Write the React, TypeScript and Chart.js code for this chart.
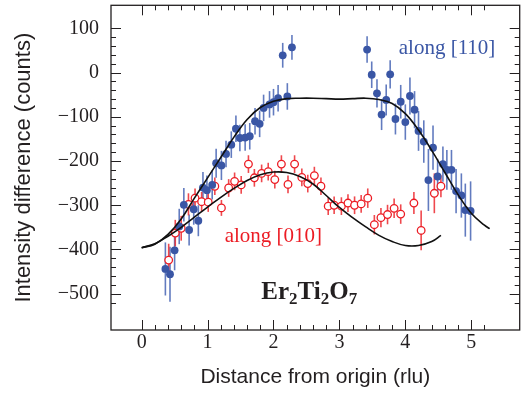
import React, { useEffect, useRef } from "react";
import { Chart, registerables } from "chart.js";

Chart.register(...registerables);

// ---- Data ----
const blueX = [0.36, 0.43, 0.5, 0.57, 0.64, 0.72, 0.79, 0.86, 0.93, 0.99, 1.07, 1.13, 1.21, 1.28, 1.36, 1.43, 1.49, 1.57, 1.64, 1.72, 1.79, 1.85, 1.94, 2.0, 2.07, 2.14, 2.21, 2.28,
  3.42, 3.49, 3.57, 3.64, 3.71, 3.77, 3.85, 3.93, 4.0, 4.07, 4.14, 4.2, 4.28, 4.35, 4.42, 4.49, 4.57, 4.63, 4.7, 4.77, 4.85, 4.91, 4.99];
const blueY = [-444, -456, -402, -348, -299, -356, -309, -335, -260, -266, -254, -205, -210, -184, -163, -127, -148, -147, -144, -110, -116, -80, -72, -67, -58, 39, -54, 57,
  52, -5, -47, -95, -62, -4, -105, -66, -112, -53, -84, -132, -156, -243, -170, -235, -207, -220, -220, -268, -278, -311, -313];
const blueErr = [60, 62, 45, 40, 38, 35, 35, 35, 35, 33, 33, 33, 33, 30, 30, 30, 30, 30, 30, 30, 30, 30, 30, 30, 30, 28, 30, 28,
  30, 30, 32, 35, 35, 32, 35, 38, 40, 42, 42, 45, 48, 70, 50, 40, 40, 45, 45, 50, 50, 60, 67];

const redX = [0.41, 0.51, 0.6, 0.71, 0.81, 0.91, 1.01, 1.11, 1.21, 1.32, 1.41, 1.51, 1.62, 1.71, 1.82, 1.92, 2.02, 2.12, 2.22, 2.32, 2.43, 2.52, 2.62, 2.72, 2.83, 2.92, 3.03, 3.13, 3.23, 3.33, 3.43, 3.53, 3.63, 3.73, 3.83, 3.93, 4.13, 4.24, 4.44, 4.54];
const redY = [-424, -363, -352, -298, -284, -292, -293, -257, -306, -261, -246, -254, -207, -238, -228, -224, -242, -207, -253, -207, -237, -251, -233, -257, -302, -300, -302, -295, -300, -297, -284, -344, -328, -321, -307, -320, -295, -357, -273, -257];
const redErr = [37, 30, 28, 25, 22, 22, 22, 20, 18, 20, 20, 20, 20, 20, 20, 20, 20, 20, 20, 20, 20, 20, 20, 20, 20, 20, 20, 20, 20, 20, 22, 22, 22, 22, 22, 22, 25, 45, 45, 25];

const fit110X = [0.0, 0.2, 0.4, 0.6, 0.8, 1.0, 1.2, 1.4, 1.6, 1.8, 2.0, 2.2, 2.4, 2.6, 2.8, 3.0, 3.2, 3.4, 3.6, 3.8, 4.0, 4.2, 4.4, 4.6, 4.8, 5.0, 5.2, 5.28];
const fit110Y = [-396, -388, -366, -331, -284, -238, -192, -146, -106, -79, -65, -59, -58, -58, -59, -60, -59, -58, -61, -70, -93, -130, -176, -226, -276, -318, -345, -353];

const fit010X = [0.0, 0.2, 0.4, 0.6, 0.8, 1.0, 1.2, 1.4, 1.6, 1.8, 2.0, 2.2, 2.4, 2.6, 2.8, 3.0, 3.2, 3.4, 3.6, 3.8, 4.0, 4.2, 4.4, 4.54];
const fit010Y = [-396, -387, -370, -350, -327, -304, -282, -262, -244, -231, -225, -226, -235, -252, -278, -305, -328, -349, -368, -382, -391, -391, -382, -368];

const xTickValues = [0, 1, 2, 3, 4, 5];
const yTickValues = [-500, -400, -300, -200, -100, 0, 100];

const X_MIN = -0.465;
const X_MAX = 5.735;
const Y_MIN = -582;
const Y_MAX = 152;

const BLUE = "#3a56a5";
const BLUE_BAR = "rgba(70,100,180,0.85)";
const RED = "#ec1c24";
const RED_BAR = "rgba(236,40,46,0.85)";
const INK = "#231f20";

const fmt = (v: number) => (v < 0 ? "\u2212" + Math.abs(v) : String(v));

const decorPlugin = {
  id: "decor",
  beforeDatasetsDraw(chart: any) {
    const ctx = chart.ctx;
    const xs = chart.scales.x;
    const ys = chart.scales.y;
    ctx.save();
    chart.data.datasets.forEach((ds: any) => {
      if (!ds.errors) return;
      ctx.strokeStyle = ds.errorColor;
      ctx.lineWidth = 1.6;
      ds.data.forEach((p: any, i: number) => {
        const e = ds.errors[i];
        const px = xs.getPixelForValue(p.x);
        ctx.beginPath();
        ctx.moveTo(px, ys.getPixelForValue(p.y - e));
        ctx.lineTo(px, ys.getPixelForValue(p.y + e));
        ctx.stroke();
      });
    });
    ctx.restore();
  },
  afterDatasetsDraw(chart: any) {
    const ctx = chart.ctx;
    const xs = chart.scales.x;
    const ys = chart.scales.y;
    ctx.save();
    ctx.textBaseline = "alphabetic";
    ctx.textAlign = "left";
    ctx.font = "21px 'Liberation Serif'";
    ctx.fillStyle = BLUE;
    ctx.fillText("along [110]", xs.getPixelForValue(3.9), ys.getPixelForValue(42));
    ctx.fillStyle = RED;
    ctx.fillText("along [010]", xs.getPixelForValue(1.26), ys.getPixelForValue(-383));

    // Er2Ti2O7
    let x = xs.getPixelForValue(1.815);
    const base = ys.getPixelForValue(-513);
    ctx.fillStyle = INK;
    const parts: [string, boolean][] = [["Er", false], ["2", true], ["Ti", false], ["2", true], ["O", false], ["7", true]];
    parts.forEach(([t, sub]) => {
      ctx.font = sub ? "bold 17px 'Liberation Serif'" : "bold 25px 'Liberation Serif'";
      ctx.fillText(t, x, sub ? base + 5 : base);
      x += ctx.measureText(t).width;
    });
    ctx.restore();
  },
  afterDraw(chart: any) {
    const ctx = chart.ctx;
    const { left, right, top, bottom } = chart.chartArea;
    const xs = chart.scales.x;
    const ys = chart.scales.y;
    ctx.save();
    ctx.strokeStyle = INK;
    ctx.lineWidth = 1.3;
    ctx.strokeRect(left, top, right - left, bottom - top);
    ctx.lineWidth = 1;
    ctx.beginPath();
    // x ticks (top & bottom), minor every 0.2 from 0 to 5.2
    for (let k = 0; k <= 26; k++) {
      const v = k * 0.2;
      const major = k % 5 === 0;
      const len = major ? 10 : 5;
      const px = Math.round(xs.getPixelForValue(v)) + 0.5;
      ctx.moveTo(px, bottom);
      ctx.lineTo(px, bottom - len);
      ctx.moveTo(px, top);
      ctx.lineTo(px, top + len);
    }
    // y ticks (left & right), minor every 20 from -520 to 100
    for (let k = -26; k <= 5; k++) {
      const v = k * 20;
      const major = k % 5 === 0;
      const len = major ? 10 : 5;
      const py = Math.round(ys.getPixelForValue(v)) + 0.5;
      ctx.moveTo(left, py);
      ctx.lineTo(left + len, py);
      ctx.moveTo(right, py);
      ctx.lineTo(right - len, py);
    }
    ctx.stroke();
    ctx.restore();
  },
};

export default function App() {
  const ref = useRef<HTMLCanvasElement | null>(null);

  useEffect(() => {
    if (!ref.current) return;
    const chart = new Chart(ref.current, {
      type: "scatter",
      data: {
        datasets: [
          {
            type: "line",
            data: fit110X.map((x, i) => ({ x, y: fit110Y[i] })),
            borderColor: "#111",
            borderWidth: 1.6,
            pointRadius: 0,
            tension: 0.4,
            fill: false,
            order: 0,
          } as any,
          {
            type: "line",
            data: fit010X.map((x, i) => ({ x, y: fit010Y[i] })),
            borderColor: "#111",
            borderWidth: 1.6,
            pointRadius: 0,
            tension: 0.4,
            fill: false,
            order: 0,
          } as any,
          {
            label: "along [110]",
            data: blueX.map((x, i) => ({ x, y: blueY[i] })),
            errors: blueErr,
            errorColor: BLUE_BAR,
            pointRadius: 3.9,
            pointBackgroundColor: BLUE,
            pointBorderWidth: 0,
            order: 1,
          } as any,
          {
            label: "along [010]",
            data: redX.map((x, i) => ({ x, y: redY[i] })),
            errors: redErr,
            errorColor: RED_BAR,
            pointRadius: 3.8,
            pointBackgroundColor: "#ffffff",
            pointBorderColor: RED,
            pointBorderWidth: 1.3,
            order: 1,
          } as any,
        ],
      },
      options: {
        animation: false,
        responsive: false,
        devicePixelRatio: 1,
        layout: { padding: { top: 2, right: 4, left: 0, bottom: 0 } },
        plugins: { legend: { display: false }, tooltip: { enabled: false } },
        scales: {
          x: {
            type: "linear",
            min: X_MIN,
            max: X_MAX,
            grid: { display: false, drawTicks: false },
            border: { display: false },
            afterBuildTicks: (s: any) => {
              s.ticks = xTickValues.map((v) => ({ value: v }));
            },
            afterFit: (s: any) => {
              s.height = 64;
              s.paddingLeft = 0;
              s.paddingRight = 0;
              s.paddingTop = 0;
              s.paddingBottom = 0;
            },
            ticks: {
              autoSkip: false,
              maxRotation: 0,
              padding: 1,
              color: INK,
              font: { family: "'Liberation Serif'", size: 20 },
              callback: (v: any) => fmt(Number(v)),
            },
            title: {
              display: true,
              text: "Distance from origin (rlu)",
              color: INK,
              font: { family: "'Liberation Sans'", size: 21 },
              padding: { top: 4, bottom: 4 },
            },
          },
          y: {
            type: "linear",
            min: Y_MIN,
            max: Y_MAX,
            grid: { display: false, drawTicks: false },
            border: { display: false },
            afterBuildTicks: (s: any) => {
              s.ticks = yTickValues.map((v) => ({ value: v }));
            },
            afterFit: (s: any) => {
              s.width = 111;
              s.paddingLeft = 0;
              s.paddingRight = 0;
              s.paddingTop = 0;
              s.paddingBottom = 0;
            },
            ticks: {
              autoSkip: false,
              padding: 12,
              color: INK,
              font: { family: "'Liberation Serif'", size: 20 },
              callback: (v: any) => fmt(Number(v)),
            },
            title: {
              display: true,
              text: "Intensity difference (counts)",
              color: INK,
              font: { family: "'Liberation Sans'", size: 22 },
              padding: { top: 11, bottom: 11 },
            },
          },
        },
      } as any,
      plugins: [decorPlugin],
    });
    return () => chart.destroy();
  }, []);

  return (
    <div style={{ position: "absolute", left: 0, top: 0, width: 525, height: 394, background: "#fff" }}>
      <canvas ref={ref} width={525} height={394} style={{ display: "block" }} />
    </div>
  );
}
